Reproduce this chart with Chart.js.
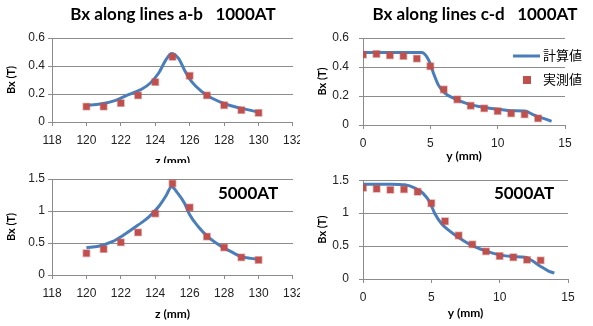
<!DOCTYPE html>
<html>
<head>
<meta charset="utf-8">
<script src="https://cdn.jsdelivr.net/npm/chart.js@4/dist/chart.umd.min.js"></script>
<style>
    html, body { margin: 0; padding: 0; background: #fff; }
    #wrap { position: relative; width: 593px; height: 326px; overflow: hidden; }
    canvas { position: absolute; background: #fff; }
</style>
</head>
<body>
<div id="wrap">
    <canvas id="ab1000" width="310" height="175" style="left:0;top:0"></canvas>
    <canvas id="cd1000" width="293" height="175" style="left:300px;top:0"></canvas>
    <canvas id="ab5000" width="310" height="163" style="left:0;top:163px"></canvas>
    <canvas id="cd5000" width="293" height="163" style="left:300px;top:163px"></canvas>
</div>
<script>
// measured points along lines a-b (z, mm)
const abMeasZ = [120, 121, 122, 123, 124, 125, 126, 127, 128, 129, 130];
const abMeas1000 = [0.11, 0.11, 0.135, 0.19, 0.285, 0.465, 0.33, 0.19, 0.12, 0.085, 0.065];
const abMeas5000 = [0.34, 0.405, 0.51, 0.665, 0.96, 1.43, 1.055, 0.6, 0.43, 0.275, 0.235];

// calculated curves along lines a-b
const abCalcZ1000 = [120, 120.8, 121.7, 122.4, 123.2, 123.7, 124.2, 124.6, 124.95, 125.35, 125.7, 126.1, 126.7, 127.3, 128.2, 129.2, 130];
const abCalc1000 = [0.12, 0.128, 0.154, 0.194, 0.234, 0.277, 0.35, 0.44, 0.49, 0.454, 0.37, 0.29, 0.217, 0.17, 0.123, 0.092, 0.071];
const abCalcZ5000 = [120, 120.7, 121.5, 122.25, 123, 123.6, 124.2, 124.65, 124.94, 125.3, 125.7, 126, 126.5, 127.05, 127.8, 128.4, 129, 129.55, 130];
const abCalc5000 = [0.427, 0.45, 0.52, 0.64, 0.78, 0.9, 1.07, 1.25, 1.38, 1.28, 1.12, 0.94, 0.755, 0.6, 0.453, 0.365, 0.286, 0.26, 0.245];

// measured points along lines c-d (y, mm)
const cdMeasY = [0, 1, 2, 3, 4, 5, 6, 7, 8, 9, 10, 11, 12, 13];
const cdMeas1000 = [0.485, 0.49, 0.48, 0.476, 0.458, 0.405, 0.245, 0.176, 0.133, 0.115, 0.096, 0.08, 0.073, 0.046];
const cdMeas5000 = [1.383, 1.37, 1.354, 1.36, 1.325, 1.15, 0.877, 0.66, 0.526, 0.42, 0.35, 0.33, 0.29, 0.283];

// calculated curves along lines c-d
const cdCalcY1000 = [0, 2, 4.37, 4.74, 4.99, 5.24, 5.6, 6.1, 6.84, 7.83, 9.07, 10.06, 11.05, 12.03, 12.53, 13.15, 13.76, 14];
const cdCalc1000 = [0.5, 0.5, 0.5, 0.47, 0.424, 0.355, 0.275, 0.218, 0.18, 0.144, 0.12, 0.108, 0.098, 0.096, 0.076, 0.053, 0.034, 0.025];
const cdCalcY5000 = [0, 2.08, 3.06, 3.8, 4.4, 4.9, 5.26, 5.75, 6.24, 6.97, 7.95, 8.93, 9.9, 10.9, 11.87, 12.36, 12.97, 13.58, 14];
const cdCalc5000 = [1.44, 1.44, 1.43, 1.38, 1.3, 1.16, 0.99, 0.84, 0.745, 0.633, 0.51, 0.43, 0.37, 0.34, 0.33, 0.28, 0.195, 0.12, 0.09];

const seriesNames = ['計算値', '実測値'];

const LINE_COLOR = '#4A7EBB';
const MARK_COLOR = '#C0504D';
const GRID_COLOR = '#8C8C8C';
const TICK_FONT = { family: 'Liberation Sans', size: 12 };
const AXIS_FONT = { family: 'Lato', size: 12, weight: 'bold' };

function toXY(xs, ys) {
    return xs.map((x, i) => ({ x: x, y: ys[i] }));
}

// plain number labels like Excel (1 not 1.0)
function plainNum(value) {
    return String(Number(value.toFixed(2)));
}

// draws free text (titles, "5000AT") and the small legend
const panelText = {
    id: 'panelText',
    afterDraw(chart, args, opts) {
        const ctx = chart.ctx;
        (opts.items || []).forEach(t => {
            ctx.save();
            ctx.font = t.font;
            ctx.fillStyle = '#000';
            ctx.textAlign = 'center';
            ctx.textBaseline = 'middle';
            ctx.fillText(t.text, t.x, t.y);
            ctx.restore();
        });
        if (opts.legend) {
            const lg = opts.legend;
            chart.data.datasets.forEach((ds, i) => {
                const y = lg.y + i * lg.gap;
                ctx.save();
                if (ds.showLine) {
                    ctx.strokeStyle = ds.borderColor;
                    ctx.lineWidth = ds.borderWidth;
                    ctx.beginPath();
                    ctx.moveTo(lg.x, y);
                    ctx.lineTo(lg.x + 27, y);
                    ctx.stroke();
                } else {
                    ctx.fillStyle = ds.backgroundColor;
                    ctx.fillRect(lg.x + 10, y - 4, 8, 8);
                }
                ctx.font = '13px "Noto Sans CJK JP"';
                ctx.fillStyle = '#000';
                ctx.textBaseline = 'middle';
                ctx.fillText(ds.label, lg.x + 30, y - 1);
                ctx.restore();
            });
        }
    }
};

function makeChart(id, g) {
    return new Chart(document.getElementById(id), {
        type: 'scatter',
        data: {
            datasets: [{
                label: seriesNames[0],
                data: toXY(g.calcX, g.calcY),
                showLine: true,
                borderColor: LINE_COLOR,
                borderWidth: 3,
                pointRadius: 0,
                cubicInterpolationMode: 'monotone',
                order: 2
            }, {
                label: seriesNames[1],
                data: toXY(g.measX, g.measY),
                showLine: false,
                pointStyle: 'rect',
                pointRadius: 4.5,
                backgroundColor: MARK_COLOR,
                borderColor: 'rgba(192,80,77,0.45)',
                borderWidth: 1.5,
                order: 1
            }]
        },
        options: {
            responsive: false,
            animation: false,
            events: [],
            layout: { padding: { left: 0, top: g.top, right: g.right, bottom: 0 } },
            plugins: {
                legend: { display: false },
                tooltip: { enabled: false },
                panelText: { items: g.texts, legend: g.legend }
            },
            scales: {
                x: {
                    type: 'linear',
                    min: g.xMin, max: g.xMax,
                    ticks: { stepSize: g.xStep, padding: g.xPad, font: TICK_FONT, color: '#222', callback: plainNum },
                    grid: { drawOnChartArea: false, tickLength: 4, color: GRID_COLOR },
                    border: { color: GRID_COLOR },
                    title: { display: true, text: g.xTitle, font: AXIS_FONT, color: '#000', padding: { top: 0, bottom: g.xTitlePad } },
                    afterFit: function (s) { s.height = g.xH; }
                },
                y: {
                    min: 0, max: g.yMax,
                    ticks: { stepSize: g.yStep, padding: g.yPad, font: TICK_FONT, color: '#222', callback: plainNum },
                    grid: { tickLength: 4, color: GRID_COLOR },
                    border: { color: GRID_COLOR },
                    title: { display: true, text: 'Bx (T)', font: { family: 'Lato', size: 11, weight: 'bold' }, color: '#000', padding: { top: g.yTitlePad, bottom: 0 } },
                    afterFit: function (s) { s.width = g.yW; }
                }
            }
        },
        plugins: [panelText]
    });
}

const TITLE_FONT = 'bold 17px Lato';
const NOTE_FONT = 'bold 17px Lato';

makeChart('ab1000', {
    calcX: abCalcZ1000, calcY: abCalc1000, measX: abMeasZ, measY: abMeas1000,
    xMin: 118, xMax: 132, xStep: 2, yMax: 0.6, yStep: 0.2, xTitle: 'z (mm)',
    top: 38, right: 17, xH: 53, yW: 52, xPad: 7, yPad: 3, xTitlePad: 7, yTitlePad: 5,
    texts: [{ text: 'Bx along lines a-b   1000AT', x: 173, y: 15, font: TITLE_FONT }]
});

makeChart('cd1000', {
    calcX: cdCalcY1000, calcY: cdCalc1000, measX: cdMeasY, measY: cdMeas1000,
    xMin: 0, xMax: 15, xStep: 5, yMax: 0.6, yStep: 0.2, xTitle: 'y (mm)',
    top: 38, right: 28, xH: 50, yW: 63, xPad: 7, yPad: 10, xTitlePad: 12, yTitlePad: 16,
    texts: [{ text: 'Bx along lines c-d   1000AT', x: 175, y: 15, font: TITLE_FONT }],
    legend: { x: 213, y: 56, gap: 24 }
});

makeChart('ab5000', {
    calcX: abCalcZ5000, calcY: abCalc5000, measX: abMeasZ, measY: abMeas5000,
    xMin: 118, xMax: 132, xStep: 2, yMax: 1.5, yStep: 0.5, xTitle: 'z (mm)',
    top: 16, right: 17, xH: 51, yW: 52, xPad: 7, yPad: 3, xTitlePad: 5, yTitlePad: 5,
    texts: [{ text: '5000AT', x: 248, y: 31, font: NOTE_FONT }]
});

makeChart('cd5000', {
    calcX: cdCalcY5000, calcY: cdCalc5000, measX: cdMeasY, measY: cdMeas5000,
    xMin: 0, xMax: 15, xStep: 5, yMax: 1.5, yStep: 0.5, xTitle: 'y (mm)',
    top: 14, right: 25, xH: 47, yW: 63, xPad: 7, yPad: 10, xTitlePad: 6, yTitlePad: 16,
    texts: [{ text: '5000AT', x: 224, y: 31, font: NOTE_FONT }]
});
</script>
</body>
</html>
